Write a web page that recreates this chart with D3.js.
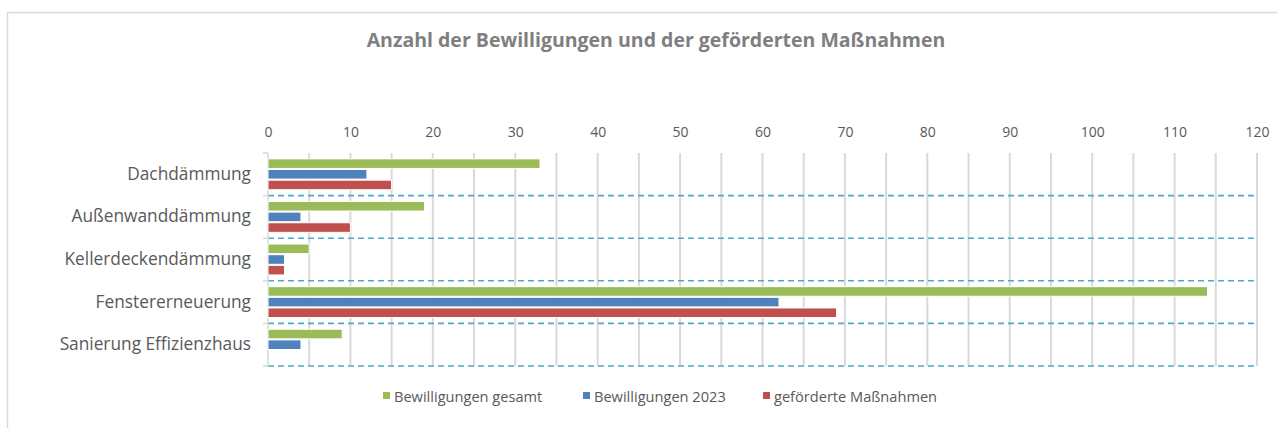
<!DOCTYPE html>
<html><head><meta charset="utf-8">
<script src="https://cdn.jsdelivr.net/npm/d3@7"></script>
<style>html,body{margin:0;padding:0;background:#fff;}svg{display:block;}</style>
</head><body>
<svg id="chart" width="1277" height="428"></svg>
<script>
const categories = ["Dachdämmung","Außenwanddämmung","Kellerdeckendämmung","Fenstererneuerung","Sanierung Effizienzhaus"];
const seriesNames = ["Bewilligungen gesamt","Bewilligungen 2023","geförderte Maßnahmen"];
const bewilligungenGesamt = [33,19,5,114,9];
const bewilligungen2023 = [12,4,2,62,4];
const gefoerderteMassnahmen = [15,10,2,69,0];
const xTicks = [0,10,20,30,40,50,60,70,80,90,100,110,120];
const titleText = "Anzahl der Bewilligungen und der geförderten Maßnahmen";

const colors = ["#9bbb59","#4f81bd","#c0504d"];
const seriesValues = [bewilligungenGesamt, bewilligungen2023, gefoerderteMassnahmen];
const font = "Open Sans, sans-serif";

const svg = d3.select("#chart");
// frame
svg.append("rect").attr("x",7.5).attr("y",12.5).attr("width",1300).attr("height",440)
  .attr("fill","#fff").attr("stroke","#d9d9d9").attr("stroke-width",1.5);

svg.append("text").attr("x",656).attr("y",47).attr("text-anchor","middle")
  .attr("font-family",font).attr("font-weight","bold").attr("font-size",19.5)
  .attr("fill","#7f7f7f").text(titleText);

const x = d3.scaleLinear().domain([0,120]).range([268,1257]);
const y = d3.scaleBand().domain(categories).range([153,366]);
const inner = d3.scaleBand().domain(d3.range(3)).range([0,y.bandwidth()]).paddingInner(0.1).paddingOuter(0.55);

// vertical gridlines every 5
const gridVals = d3.range(5,121,5);
svg.append("g").selectAll("line").data(gridVals).join("line")
  .attr("x1",d=>x(d)).attr("x2",d=>x(d)).attr("y1",153).attr("y2",366)
  .attr("stroke","#d9d9d9").attr("stroke-width",2);

// dashed category gridlines
const bounds = categories.map(c=>y(c)+y.bandwidth());
svg.append("g").selectAll("line").data(bounds).join("line")
  .attr("x1",268).attr("x2",1257).attr("y1",d=>d).attr("y2",d=>d)
  .attr("stroke","#4bacc6").attr("stroke-width",1.6).attr("stroke-dasharray","6,4");

// left axis line with ticks
svg.append("line").attr("x1",268).attr("x2",268).attr("y1",153).attr("y2",366)
  .attr("stroke","#d9d9d9").attr("stroke-width",1.5);
svg.append("g").selectAll("line").data([153,...bounds]).join("line")
  .attr("x1",263).attr("x2",268).attr("y1",d=>d).attr("y2",d=>d)
  .attr("stroke","#d9d9d9").attr("stroke-width",1.5);

// x axis labels on top
const xAxis = d3.axisTop(x).tickValues(xTicks).tickSize(0).tickPadding(0);
const gx = svg.append("g").attr("transform","translate(0,137)").call(xAxis);
gx.select(".domain").remove();
gx.selectAll("text").attr("font-family",font).attr("font-size",14).attr("fill","#595959");

// category labels
const yAxis = d3.axisLeft(y).tickSize(0).tickPadding(17);
const gy = svg.append("g").attr("transform","translate(268,0)").call(yAxis);
gy.select(".domain").remove();
gy.selectAll("text").attr("font-family",font).attr("font-size",17.3).attr("fill","#595959");

// bars
seriesValues.forEach((vals,si)=>{
  svg.append("g").selectAll("rect").data(vals.map((v,i)=>({v,c:categories[i]}))).join("rect")
    .filter(d=>d.v>0)
    .attr("x",x(0)).attr("y",d=>y(d.c)+inner(si))
    .attr("width",d=>x(d.v)-x(0)).attr("height",inner.bandwidth())
    .attr("fill",colors[si]).attr("stroke","#fff").attr("stroke-width",1);
});

// legend
const legendX = [383,583,763];
const lg = svg.append("g");
seriesNames.forEach((n,i)=>{
  lg.append("rect").attr("x",legendX[i]).attr("y",392).attr("width",7).attr("height",7).attr("fill",colors[i]);
  lg.append("text").attr("x",legendX[i]+11).attr("y",402).attr("font-family",font).attr("font-size",14.6)
    .attr("fill","#595959").text(n);
});
</script>
</body></html>
